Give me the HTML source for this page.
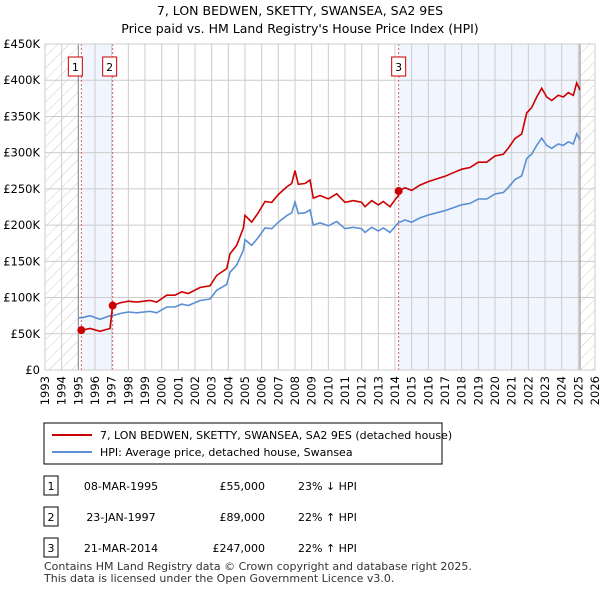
<!DOCTYPE html>
<html><head><meta charset="utf-8"><style>
body{margin:0;background:#fff;font-family:"Liberation Sans","DejaVu Sans",sans-serif;}
svg text{font-family:"DejaVu Sans","Liberation Sans",sans-serif;}
</style></head><body>
<svg id="c" width="600" height="590" xmlns="http://www.w3.org/2000/svg">
<defs><pattern id="h" width="8" height="8" patternUnits="userSpaceOnUse" patternTransform="rotate(45)"><line x1="0" y1="0" x2="0" y2="8" stroke="#ccc" stroke-width="1"/></pattern></defs>
<text x="300" y="15" text-anchor="middle" font-size="12.5">7, LON BEDWEN, SKETTY, SWANSEA, SA2 9ES</text>
<text x="300" y="33" text-anchor="middle" font-size="12.5">Price paid vs. HM Land Registry's House Price Index (HPI)</text>
<g id="plot"></g>
<rect x="44" y="423" width="398" height="41" fill="#fff" stroke="#000" stroke-width="1"/>
<line x1="52" y1="435" x2="92" y2="435" stroke="#cc0000" stroke-width="2"/>
<text x="100" y="439" font-size="11">7, LON BEDWEN, SKETTY, SWANSEA, SA2 9ES (detached house)</text>
<line x1="52" y1="452" x2="92" y2="452" stroke="#5b8fd4" stroke-width="2"/>
<text x="100" y="456" font-size="11">HPI: Average price, detached house, Swansea</text>
<g id="tbl" font-size="11"></g>
<text x="44" y="570" font-size="11" fill="#333">Contains HM Land Registry data © Crown copyright and database right 2025.</text>
<text x="44" y="582" font-size="11" fill="#333">This data is licensed under the Open Government Licence v3.0.</text>
</svg>
<script>
const hpiYears=[1995.0,1995.2,1995.7,1996.3,1996.9,1997.06,1997.5,1998.0,1998.5,1999.3,1999.7,2000.3,2000.8,2001.2,2001.6,2002.3,2002.9,2003.3,2003.9,2004.1,2004.5,2004.9,2005.0,2005.4,2005.8,2006.2,2006.6,2007.0,2007.5,2007.8,2008.0,2008.2,2008.6,2008.9,2009.1,2009.5,2010.0,2010.5,2011.0,2011.5,2012.0,2012.2,2012.6,2013.0,2013.3,2013.7,2014.0,2014.2,2014.6,2015.0,2015.5,2016.0,2016.5,2017.0,2017.5,2018.0,2018.5,2019.0,2019.5,2020.0,2020.5,2020.8,2021.2,2021.6,2021.9,2022.2,2022.5,2022.8,2023.1,2023.4,2023.8,2024.1,2024.4,2024.7,2024.9,2025.1];
const hpiValues=[72,72,75,70,75,75,78,80,79,81,79,87,87,91,89,96,98,110,118,135,145,165,180,172,183,196,195,204,213,217,232,216,217,221,200,203,199,205,195,197,195,190,197,192,196,190,198,203,207,204,210,214,217,220,224,228,230,236,236,243,245,252,263,268,292,298,310,320,310,306,312,310,315,312,326,318];
const saleDates=[1995.18,1997.06,2014.22];
const saleLabels=["08-MAR-1995","23-JAN-1997","21-MAR-2014"];
const salePrices=[55000,89000,247000];
const saleDiffs=["23% ↓ HPI","22% ↑ HPI","22% ↑ HPI"];
const yTicks=[0,50,100,150,200,250,300,350,400,450];
const yTickLabels=["£0","£50K","£100K","£150K","£200K","£250K","£300K","£350K","£400K","£450K"];
const xStart=1993,xEnd=2026,dataEnd=2025.1;

const NS="http://www.w3.org/2000/svg";
const L=45,R=595,T=44,B=370;
const X=v=>L+(v-xStart)*(R-L)/(xEnd-xStart);
const Y=v=>B-v*(B-T)/450;
const g=document.getElementById('plot');
function mk(t,a,p){const e=document.createElementNS(NS,t);for(const k in a)e.setAttribute(k,a[k]);(p||g).appendChild(e);return e;}
function hpiAt(t){for(let i=1;i<hpiYears.length;i++){if(t<=hpiYears[i]){const f=(t-hpiYears[i-1])/(hpiYears[i]-hpiYears[i-1]);return hpiValues[i-1]+f*(hpiValues[i]-hpiValues[i-1]);}}return hpiValues[hpiValues.length-1];}
let e;
e=mk('rect',{x:L,y:T,width:X(hpiYears[0])-L,height:B-T,fill:'url(#h)'});


e=mk('rect',{x:X(dataEnd),y:T,width:R-X(dataEnd),height:B-T,fill:'url(#h)'});


e=mk('rect',{x:X(saleDates[0]),y:T,width:X(saleDates[1])-X(saleDates[0]),height:B-T,fill:'#eef3fc',opacity:0.8});


e=mk('rect',{x:X(saleDates[2]),y:T,width:X(dataEnd)-X(saleDates[2]),height:B-T,fill:'#eef3fc',opacity:0.8});


for(let y=xStart;y<=xEnd;y++){
 e=mk('line',{x1:X(y),x2:X(y),y1:T,y2:B,stroke:'#ccc','stroke-width':1});
 
 
 e=mk('text',{x:0,y:0,'font-size':11.5,transform:`translate(${X(y)+4},${B+6}) rotate(-90)`,'text-anchor':'end'});
 e.textContent=y;
 
 
}
yTicks.forEach((v,i)=>{
 e=mk('line',{x1:L,x2:R,y1:Y(v),y2:Y(v),stroke:'#ccc','stroke-width':1});
 
 
 e=mk('text',{x:L-5,y:Y(v)+4,'font-size':11.5,'text-anchor':'end'});
 e.textContent=yTickLabels[i];
 
 
});
e=mk('line',{x1:X(hpiYears[0]),x2:X(hpiYears[0]),y1:T,y2:B,stroke:'#888','stroke-width':1});


e=mk('line',{x1:X(dataEnd),x2:X(dataEnd),y1:T,y2:B,stroke:'#888','stroke-width':1});


saleDates.forEach((d,i)=>{
 e=mk('line',{x1:X(d),x2:X(d),y1:T,y2:B,stroke:'#e06060','stroke-width':1,'stroke-dasharray':'2,2'});
 
 
 const bx=X(d)-(i==2?3:0)-(i<2?10:4)+(i==0?2:0);
 e=mk('rect',{x:X(d)-(i==0?13:i==1?10:7),y:57,width:14,height:19,fill:'#fff',stroke:'#cc0000'});
 
 
 e=mk('text',{x:X(d)-(i==0?6:i==1?3:0),y:71,'font-size':11,'text-anchor':'middle'});
 e.textContent=i+1;
 
 
});
// HPI line
let p='';hpiYears.forEach((t,i)=>{p+=(i?'L':'M')+X(t).toFixed(1)+','+Y(hpiValues[i]).toFixed(1);});
e=mk('path',{d:p,fill:'none',stroke:'#5b8fd4','stroke-width':1.6});


// price line: HPI scaled from each sale
let rp='';
hpiYears.forEach((t,i)=>{
 let s=0;for(let k=0;k<saleDates.length;k++)if(t>=saleDates[k])s=k;
 const ratio=salePrices[s]/1000/hpiAt(saleDates[s]);
 rp+=(i?'L':'M')+X(t).toFixed(1)+','+Y(hpiValues[i]*ratio).toFixed(1);
 if(s+1<saleDates.length&&i+1<hpiYears.length&&hpiYears[i+1]>saleDates[s+1]){
  const d=saleDates[s+1];
  rp+='L'+X(d).toFixed(1)+','+Y(hpiAt(d)*ratio).toFixed(1)+'L'+X(d).toFixed(1)+','+Y(salePrices[s+1]/1000).toFixed(1);
 }
});
e=mk('path',{d:rp,fill:'none',stroke:'#cc0000','stroke-width':1.6});


saleDates.forEach((d,i)=>{
 e=mk('circle',{cx:X(d),cy:Y(salePrices[i]/1000),r:4,fill:'#cc0000'});
 
 
});
e=mk('rect',{x:L,y:T,width:R-L,height:B-T,fill:'none',stroke:'#ccc'});


// table
const tb=document.getElementById('tbl');
const rowsY=[486,517,548];
saleDates.forEach((d,i)=>{
 const y=rowsY[i];
 e=mk('rect',{x:44,y:y-10,width:14,height:19,fill:'#fff',stroke:'#000'},tb);
 
 
 e=mk('text',{x:51,y:y+4,'text-anchor':'middle'},tb);e.textContent=i+1;
 
 
 e=mk('text',{x:121,y:y+4,'text-anchor':'middle'},tb);e.textContent=saleLabels[i];
 
 
 e=mk('text',{x:265,y:y+4,'text-anchor':'end'},tb);e.textContent='£'+salePrices[i].toLocaleString('en-GB');
 
 
 e=mk('text',{x:298,y:y+4},tb);e.textContent=saleDiffs[i];
 
 
});
</script>
</body></html>
